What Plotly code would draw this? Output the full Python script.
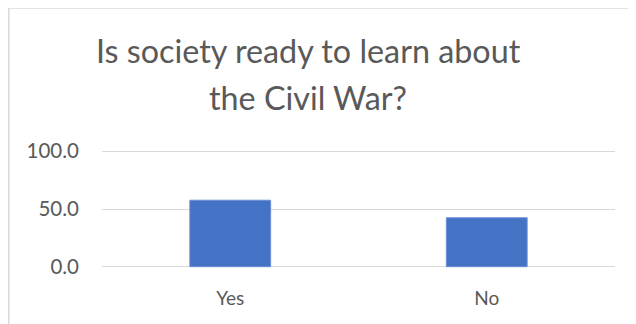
import plotly.graph_objects as go

categories = ["Yes", "No"]
values = [57.6, 42.4]
y_ticks = [0, 50, 100]
y_tick_labels = ["0.0", "50.0", "100.0"]
title_lines = ["Is society ready to learn about", "the Civil War?"]

# the page body adds an 8px offset; target screen positions are shifted by -8
OFF = 8
W, H = 636 - OFF, 324 - OFF
ml, mr, mt, mb = 102 - OFF, 21, 149.4 - OFF, 55

fig = go.Figure(go.Bar(
    x=categories, y=values,
    marker=dict(color="#4472C4", line=dict(color="#6B8FD6", width=1)),
    width=0.315,
))

fig.update_layout(
    width=W, height=H,
    margin=dict(l=ml, r=mr, t=mt, b=mb, pad=0),
    paper_bgcolor="white", plot_bgcolor="white",
    font=dict(family="Lato, Open Sans, sans-serif", color="#595959"),
    showlegend=False,
)
fig.update_xaxes(showgrid=False, showline=False, ticks="", tickfont=dict(size=19),
                 ticklabelstandoff=16)
fig.update_yaxes(range=[-2, 102], tickvals=y_ticks, ticktext=y_tick_labels,
                 showgrid=True, gridcolor="#D9D9D9", gridwidth=1.3,
                 zeroline=False, showline=False, ticks="", tickfont=dict(size=20.5),
                 ticklabelstandoff=22)

x_px = lambda px: (px - OFF - ml) / (W - ml - mr)
y_px = lambda py: (H - mb - (py - OFF)) / (H - mt - mb)

# title as two centered lines
for line, ymid in zip(title_lines, [51, 98]):
    fig.add_annotation(text=line, x=x_px(308), y=y_px(ymid), xref="paper", yref="paper",
                       xanchor="center", yanchor="middle", showarrow=False,
                       font=dict(size=32.3, color="#595959"))

# chart frame (top and left edges)
fig.add_shape(type="line", xref="paper", yref="paper",
              x0=x_px(8.8), x1=x_px(640), y0=y_px(8.8), y1=y_px(8.8),
              line=dict(color="#D9D9D9", width=1.5))
fig.add_shape(type="line", xref="paper", yref="paper",
              x0=x_px(8.8), x1=x_px(8.8), y0=y_px(8.8), y1=y_px(330),
              line=dict(color="#D9D9D9", width=1.5))

fig.write_html("out.html")
